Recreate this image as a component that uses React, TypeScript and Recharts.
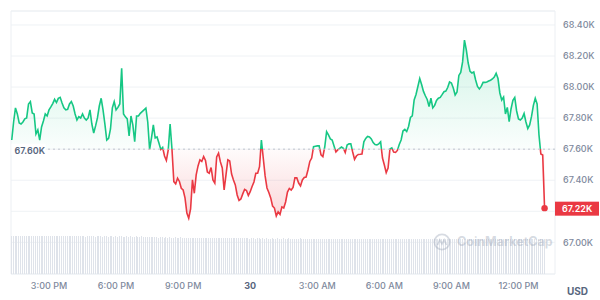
import React from 'react';
import {
  ComposedChart,
  Area,
  Bar,
  XAxis,
  YAxis,
  CartesianGrid,
  ReferenceLine,
  ReferenceDot,
  ReferenceArea,
} from 'recharts';

// time grid: minutes from 29th 00:00, 5-minute candles
const START_MIN = 800;
const STEP_MIN = 5;

const prices = [
  67659, 67775, 67866, 67827, 67769, 67762, 67775, 67795, 67801, 67891, 67906, 67833, 67827, 67698, 67724, 67659, 67743, 67782, 67827, 67814, 67853, 67872, 67894, 67921,
  67900, 67927, 67934, 67898, 67866, 67853, 67857, 67891, 67907, 67878, 67827, 67788, 67809, 67801, 67827, 67801, 67788, 67801, 67853, 67762, 67704, 67750, 67801, 67878,
  67928, 67853, 67762, 67659, 67670, 67730, 67866, 67906, 67853, 67869, 67891, 68121, 67827, 67808, 67795, 67685, 67814, 67756, 67648, 67814, 67814, 67831, 67842, 67853,
  67864, 67775, 67599, 67672, 67756, 67672, 67679, 67640, 67598, 67611, 67556, 67527, 67595, 67762, 67601, 67391, 67376, 67413, 67392, 67348, 67337, 67286, 67189, 67155,
  67215, 67402, 67316, 67434, 67492, 67531, 67521, 67552, 67527, 67453, 67445, 67482, 67402, 67381, 67550, 67574, 67518, 67479, 67337, 67434, 67531, 67524, 67440, 67402,
  67370, 67305, 67270, 67279, 67312, 67341, 67334, 67302, 67326, 67360, 67389, 67445, 67445, 67487, 67659, 67543, 67428, 67350, 67321, 67286, 67234, 67221, 67170, 67196,
  67180, 67228, 67221, 67260, 67324, 67347, 67337, 67353, 67415, 67415, 67382, 67363, 67402, 67418, 67421, 67466, 67521, 67543, 67616, 67619, 67621, 67621, 67563, 67552,
  67614, 67713, 67692, 67666, 67659, 67621, 67582, 67595, 67605, 67614, 67606, 67578, 67627, 67634, 67634, 67582, 67535, 67556, 67566, 67567, 67569, 67647, 67669, 67682,
  67679, 67666, 67643, 67630, 67627, 67634, 67647, 67543, 67498, 67449, 67479, 67601, 67608, 67581, 67579, 67592, 67630, 67659, 67717, 67727, 67714, 67746, 67804, 67814,
  67917, 67952, 68004, 68055, 68017, 67972, 67944, 67920, 67875, 67928, 67866, 67882, 67914, 67928, 67933, 67951, 67970, 67974, 67997, 68033, 68026, 67994, 67949, 67968,
  68075, 68094, 68162, 68303, 68239, 68155, 68101, 68091, 68097, 68046, 68004, 67988, 68004, 68030, 68030, 68033, 68039, 68044, 68052, 68065, 68089, 68055, 67962, 67917,
  67936, 67827, 67869, 67777, 67859, 67914, 67933, 67846, 67795, 67788, 67801, 67830, 67775, 67733, 67756, 67811, 67882, 67927, 67891, 67692, 67569, 67563, 67220,
];

const volumes = [
  101, 100, 101, 101, 100, 101, 100, 101, 101, 100, 100, 101, 100, 101, 101, 100, 101, 100, 100, 101, 101, 100, 101, 100,
  100, 101, 100, 101, 100, 100, 101, 100, 101, 100, 100, 101, 100, 100, 101, 100, 99, 100, 100, 101, 100, 99, 100, 100,
  100, 99, 100, 100, 99, 100, 100, 99, 100, 99, 100, 100, 99, 99, 100, 99, 100, 99, 99, 100, 99, 99, 100, 99,
  99, 98, 99, 98, 98, 99, 98, 97, 98, 98, 97, 98, 97, 98, 97, 97, 98, 97, 97, 98, 97, 96, 97, 97,
  96, 97, 96, 97, 96, 96, 97, 96, 96, 95, 96, 96, 95, 96, 96, 95, 96, 95, 95, 96, 95, 95, 96, 95,
  95, 96, 95, 95, 95, 96, 95, 95, 94, 95, 95, 94, 95, 95, 94, 95, 94, 95, 94, 94, 95, 94, 94, 95,
  94, 94, 95, 94, 94, 95, 94, 94, 93, 94, 94, 95, 94, 93, 94, 94, 93, 94, 94, 93, 94, 94, 93, 94,
  94, 93, 94, 93, 94, 94, 93, 94, 93, 93, 94, 93, 94, 93, 93, 94, 93, 94, 93, 93, 94, 93, 94, 93,
  93, 94, 93, 93, 94, 93, 93, 94, 93, 94, 93, 93, 94, 93, 93, 94, 93, 93, 94, 93, 94, 93, 93, 94,
  93, 93, 94, 93, 94, 93, 93, 94, 93, 93, 94, 93, 94, 93, 93, 94, 93, 93, 94, 93, 94, 93, 93, 94,
  93, 94, 93, 93, 94, 93, 93, 94, 93, 94, 93, 93, 94, 93, 93, 94, 93, 94, 93, 93, 94, 93, 93, 94,
  93, 93, 94, 93, 94, 93, 93, 94, 93, 94, 93, 93, 94, 93, 93, 94, 93, 94, 93, 93, 94, 93, 93,
];

const xTicks = [900, 1080, 1260, 1440, 1620, 1800, 1980, 2160];
const xTickLabels = ['3:00 PM', '6:00 PM', '9:00 PM', '30', '3:00 AM', '6:00 AM', '9:00 AM', '12:00 PM'];
const yTicks = [67000, 67200, 67400, 67600, 67800, 68000, 68200, 68400];
const X_DOMAIN: [number, number] = [798, 2258];
const Y_DOMAIN: [number, number] = [66796, 68490];
const VOL_DOMAIN: [number, number] = [0, 700];
const openPrice = 67600;

const data = prices.map((p, i) => ({ t: START_MIN + STEP_MIN * i, price: p, vol: volumes[i] }));
const last = data[data.length - 1];
const maxP = Math.max(...prices);
const minP = Math.min(...prices);
const splitOff = (maxP - openPrice) / (maxP - minP);

const GREEN = '#16c784';
const RED = '#ea3943';
const FONT = 'Inter, "Noto Sans", sans-serif';

const fmtK = (v: number) => (v / 1000).toFixed(2) + 'K';

const XTick = (props: any) => {
  const { x, y, payload } = props;
  const i = xTicks.indexOf(payload.value);
  const label = xTickLabels[i] ?? '';
  const bold = label === '30';
  return (
    <text x={x} y={y} dy={6.5} textAnchor="middle" fontSize={9} fontFamily={FONT}
      fontWeight={bold ? 700 : 500} fill={bold ? '#58667e' : '#808a9d'}>
      {label}
    </text>
  );
};

const YTick = (props: any) => {
  const { x, y, payload } = props;
  if (payload.value === 67200) return <g />;
  return (
    <text x={x} y={y} dy={3.2} textAnchor="start" fontSize={9} fontFamily={FONT} fontWeight={500} fill="#808a9d">
      {fmtK(payload.value)}
    </text>
  );
};

const VolBar = (props: any) => {
  const { x, y, width, height } = props;
  if (!height || height <= 0) return <g />;
  return (
    <rect x={Math.round(x + width / 2 - 0.5)} y={y} width={1} height={height}
      fill="#dfe3ea" shapeRendering="crispEdges" />
  );
};

const OpenLabel = (props: any) => {
  const vb = props.viewBox || {};
  const x = vb.x;
  const y = vb.y;
  return (
    <g>
      <rect x={x + 0.5} y={y - 5.5} width={34} height={11} fill="#ffffff" />
      <text x={x + 3.5} y={y + 5.2} fontSize={9} fontFamily={FONT} fontWeight={600} fill="#58667e">
        {fmtK(openPrice)}
      </text>
    </g>
  );
};

const PriceTag = (props: any) => {
  const vb = props.viewBox || {};
  const right = vb.x + vb.width;
  const y = vb.y;
  return (
    <g>
      <rect x={right} y={y - 6.5} width={44} height={14} fill={RED} />
      <text x={right + 7} y={y + 3.7} fontSize={9} fontFamily={FONT} fontWeight={600} fill="#ffffff">
        {fmtK(last.price)}
      </text>
    </g>
  );
};

export default function App() {
  return (
    <div style={{ position: 'absolute', left: 0, top: 0, width: 600, height: 300, background: '#fff', overflow: 'hidden' }}>
      <ComposedChart width={600} height={300} data={data} margin={{ top: 11, right: 0, bottom: 0, left: 11 }}>
        <defs>
          <linearGradient id="strokeGrad" x1="0" y1="0" x2="0" y2="1">
            <stop offset={0} stopColor={GREEN} />
            <stop offset={splitOff} stopColor={GREEN} />
            <stop offset={splitOff} stopColor={RED} />
            <stop offset={1} stopColor={RED} />
          </linearGradient>
          <linearGradient id="fillGrad" x1="0" y1="0" x2="0" y2="1">
            <stop offset={0} stopColor={GREEN} stopOpacity={0.2} />
            <stop offset={splitOff} stopColor={GREEN} stopOpacity={0.02} />
            <stop offset={splitOff} stopColor={RED} stopOpacity={0.02} />
            <stop offset={1} stopColor={RED} stopOpacity={0.2} />
          </linearGradient>
        </defs>
        <CartesianGrid vertical={false} stroke="#eff2f5" yAxisId="p" />
        <XAxis dataKey="t" type="number" domain={X_DOMAIN} ticks={xTicks} allowDataOverflow
          axisLine={false} tickLine={false} height={26} tick={<XTick />} interval={0} />
        <YAxis yAxisId="p" orientation="right" domain={Y_DOMAIN} ticks={yTicks} allowDataOverflow
          axisLine={false} tickLine={false} width={45} tick={<YTick />} interval={0} />
        <YAxis yAxisId="v" hide domain={VOL_DOMAIN} />
        <ReferenceArea yAxisId="p" x1={X_DOMAIN[0]} x2={X_DOMAIN[1]} y1={Y_DOMAIN[0]} y2={Y_DOMAIN[1]}
          fill="none" stroke="#eceff3" fillOpacity={0} />
        <Bar yAxisId="v" dataKey="vol" fill="#dfe3ea" barSize={1} shape={<VolBar />} isAnimationActive={false} />
        <Area yAxisId="p" type="linear" dataKey="price" baseValue={openPrice}
          stroke="url(#strokeGrad)" strokeWidth={1.6} fill="url(#fillGrad)" fillOpacity={1}
          dot={false} activeDot={false} isAnimationActive={false} />
        <ReferenceLine yAxisId="p" y={openPrice} stroke="#bfc5cf" strokeDasharray="2 3"
          label={(p: any) => <OpenLabel {...p} />} />
        <ReferenceLine yAxisId="p" y={last.price} stroke="none"
          label={(p: any) => <PriceTag {...p} />} />
        <ReferenceDot yAxisId="p" x={last.t} y={last.price} r={3.2} fill={RED} stroke="none" />
      </ComposedChart>
      <div style={{ position: 'absolute', left: 433, top: 233, display: 'flex', alignItems: 'center', gap: 6,
        fontFamily: FONT, fontSize: 12.5, fontWeight: 700, color: 'rgba(150,160,178,0.38)', lineHeight: '18px' }}>
        <svg width={18} height={18} viewBox="0 0 18 18">
          <circle cx={9} cy={9} r={7.6} fill="none" stroke="rgba(150,160,178,0.38)" strokeWidth={1.8} />
          <path d="M4.5 12 L6.8 6.8 L9 11 L11.2 6.8 L13.5 12" fill="none" stroke="rgba(150,160,178,0.38)" strokeWidth={1.6} />
        </svg>
        <span>CoinMarketCap</span>
      </div>
      <div style={{ position: 'absolute', left: 567, top: 284.5, fontFamily: FONT, fontSize: 10, fontWeight: 700,
        color: '#58667e', lineHeight: '12px' }}>
        USD
      </div>
    </div>
  );
}
